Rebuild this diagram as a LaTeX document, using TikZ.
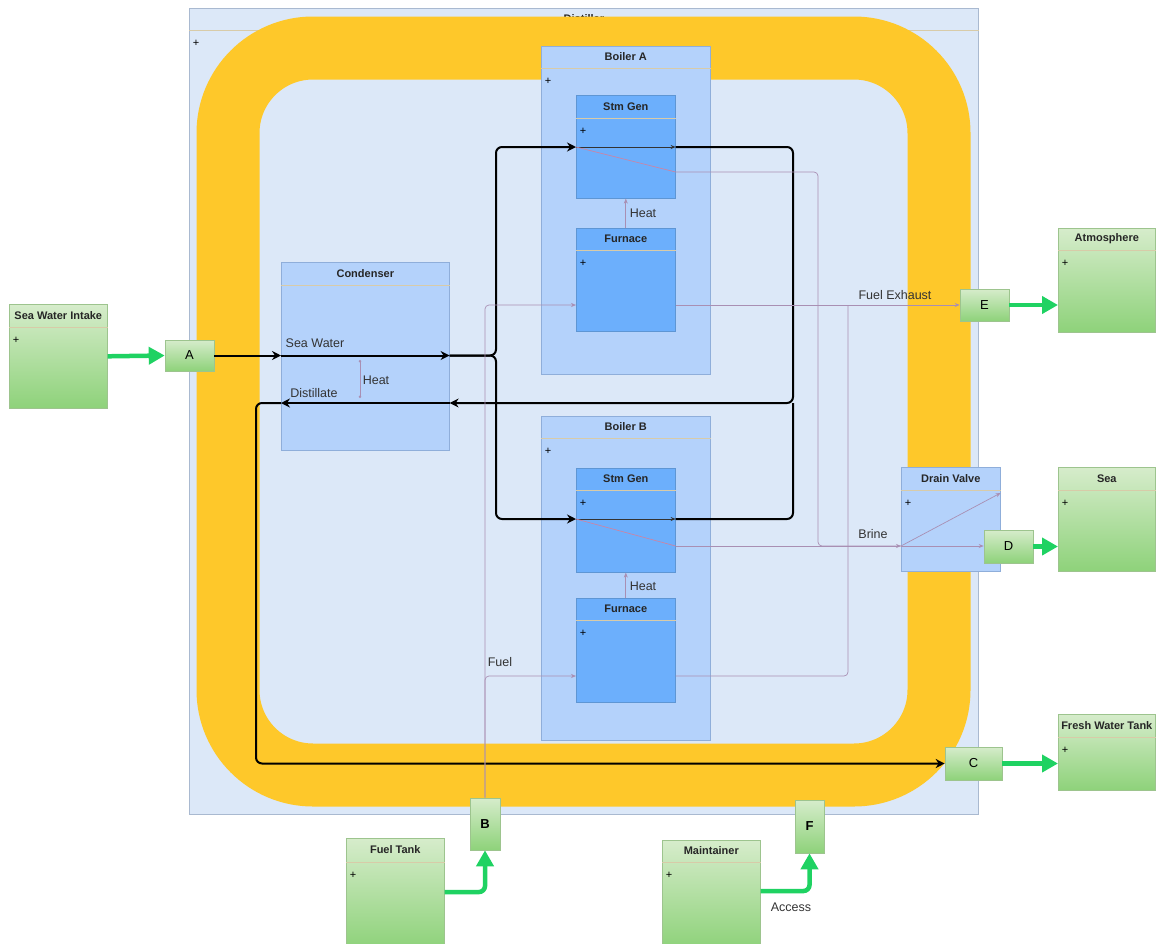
\documentclass[tikz,border=0pt]{standalone}
\usepackage{fontspec}
\setmainfont{Liberation Sans}
\usetikzlibrary{arrows.meta,calc}

\definecolor{distfill}{HTML}{DCE8F8}
\definecolor{distline}{HTML}{A9B9D0}
\definecolor{ringcol}{HTML}{FEC82A}
\definecolor{boilfill}{HTML}{B4D2FB}
\definecolor{boilline}{HTML}{8FAEDA}
\definecolor{sgfill}{HTML}{6CAFFC}
\definecolor{sgline}{HTML}{5E96D4}
\definecolor{hdrcol}{HTML}{D8CBA8}
\definecolor{exttop}{HTML}{D6ECCB}
\definecolor{extbot}{HTML}{8ED27A}
\definecolor{extline}{HTML}{9DC48E}
\definecolor{flowcol}{HTML}{1FD262}
\definecolor{thincol}{HTML}{A98FB3}
\definecolor{brinecol}{HTML}{C985A6}

\tikzset{
  distbox/.style={draw=distline, fill=distfill, line width=0.8pt},
  boilbox/.style={draw=boilline, fill=boilfill, line width=0.6pt},
  sgbox/.style={draw=sgline, fill=sgfill, line width=0.6pt},
  extbox/.style={draw=extline, top color=exttop, bottom color=extbot, line width=0.6pt},
  port/.style={draw=extline, top color=exttop, bottom color=extbot, line width=0.6pt,
    inner sep=0pt, font=\fontsize{13}{15}\selectfont},
  hdrline/.style={draw=hdrcol, line width=0.6pt},
  titletext/.style={font=\bfseries\fontsize{11}{13}\selectfont, text=black!85, inner sep=0pt},
  plustext/.style={font=\fontsize{11}{12}\selectfont, inner sep=0pt},
  lbl/.style={font=\fontsize{12.5}{15}\selectfont, text=black!80, inner sep=0pt},
  pipe/.style={draw=black, line width=2pt},
  pipetip/.style={-{Stealth[length=9pt,width=9pt]}},
  thinline/.style={draw=thincol, line width=0.7pt},
  thintip/.style={-{Stealth[length=5pt,width=4pt]}},
  brine/.style={draw=brinecol, line width=0.7pt},
  flow/.style={draw=flowcol, line width=4.5pt, -{Triangle[length=16pt,width=17pt]}},
}

% block with a header compartment, #9 = plus sign or empty
\newcommand{\umlbox}[9]{%
  \node[#2, minimum width=#5pt, minimum height=#6pt, anchor=north west, inner sep=0pt] (#1) at (#3,#4) {};
  \draw[hdrline] ($(#1.north west)+(0,#7)$) -- ($(#1.north east)+(0,#7)$);
  \node[titletext] (#1-title) at ($(#1.north)+(0,#7/2)$) {#8};
  \if\relax\detokenize{#9}\relax\else
    \node[plustext] (#1-plus) at ($(#1.north west)+(7,#7+13)$) {#9};
  \fi
}

\begin{document}
\begin{tikzpicture}[x=1pt,y=-1pt]
\useasboundingbox (0,0) rectangle (1157,943);

% distiller and its ring
\umlbox{dist}{distbox}{189}{8}{789}{806}{22}{Distiller}{+}
\draw[draw=ringcol, line width=63pt, rounded corners=85pt] (228,48) rectangle (939,775);

% boilers
\umlbox{boilA}{boilbox}{541}{46}{169}{328}{22}{Boiler A}{+}
\umlbox{sgA}{sgbox}{576}{95}{99}{103}{23}{Stm Gen}{+}
\umlbox{furnA}{sgbox}{576}{228}{99}{103}{22}{Furnace}{+}
\umlbox{boilB}{boilbox}{541}{416}{169}{324}{22}{Boiler B}{+}
\umlbox{sgB}{sgbox}{576}{468}{99}{104}{22}{Stm Gen}{+}
\umlbox{furnB}{sgbox}{576}{598}{99}{104}{22}{Furnace}{+}
\umlbox{cond}{boilbox}{281}{262}{168}{188}{23}{Condenser}{}
\umlbox{drain}{boilbox}{901}{467}{99}{104}{23}{Drain Valve}{+}

% outside world
\umlbox{intake}{extbox}{9}{304}{98}{104}{23}{Sea Water Intake}{+}
\umlbox{atmos}{extbox}{1058}{228}{97}{104}{22}{Atmosphere}{+}
\umlbox{sea}{extbox}{1058}{467}{97}{104}{23}{Sea}{+}
\umlbox{fresh}{extbox}{1058}{714}{97}{76}{23}{Fresh Water Tank}{+}
\umlbox{fuel}{extbox}{346}{838}{98}{110}{24}{Fuel Tank}{+}
\umlbox{maint}{extbox}{662}{840}{98}{108}{22}{Maintainer}{+}

% ports
\node[port, minimum width=49pt, minimum height=31pt] (pA) at (189.5,355.5) {A};
\node[port, minimum width=49pt, minimum height=32pt] (pE) at (984.5,305) {E};
\node[port, minimum width=49pt, minimum height=33pt] (pD) at (1008.5,546.5) {D};
\node[port, minimum width=57pt, minimum height=33pt] (pC) at (973.5,763.5) {C};
\node[port, minimum width=30pt, minimum height=52pt, font=\bfseries\fontsize{13}{15}\selectfont] (pB) at (485,824) {B};
\node[port, minimum width=29pt, minimum height=53pt, font=\bfseries\fontsize{13}{15}\selectfont] (pF) at (809.5,826.5) {F};

% points on the pipes
\coordinate (split) at (496,355.5);
\coordinate (ret) at (793,403);
\coordinate (drop) at (256,403);
\coordinate (sgAin) at ($(sgA.north west)+(0,52)$);
\coordinate (sgBin) at ($(sgB.north west)+(0,51)$);
\coordinate (brA) at ($(sgA.north east)+(0,77)$);
\coordinate (brB) at ($(sgB.north east)+(0,78)$);
\coordinate (brjoin) at (818,546);
\coordinate (fuelA) at ($(furnA.north west)+(0,77)$);
\coordinate (fuelB) at ($(furnB.north west)+(0,78)$);
\coordinate (exjoin) at (848,305);
\coordinate (hc1) at (360,360);
\coordinate (hc2) at (360,398);
\coordinate (ftout) at ($(fuel.north east)+(0,54)$);
\coordinate (mout) at ($(maint.north east)+(0,51)$);

% sea water and distillate
\draw[pipe, pipetip] (pA.east) -- (pA.east -| cond.west);
\draw[pipe, pipetip] (pA.east -| cond.west) -- (pA.east -| cond.east);
\draw[pipe, pipetip, rounded corners=6pt] (pA.east -| cond.east) -| (split |- sgAin) -- (sgAin);
\draw[pipe, pipetip, rounded corners=6pt] (pA.east -| cond.east) -| (split |- sgBin) -- (sgBin);
\draw[draw=black!80, line width=0.8pt, thintip] (sgAin) -- (sgAin -| sgA.east);
\draw[draw=black!80, line width=0.8pt, thintip] (sgBin) -- (sgBin -| sgB.east);
\draw[pipe, pipetip, rounded corners=6pt] (sgAin -| sgA.east) -| (ret) -- (ret -| cond.east);
\draw[pipe, rounded corners=6pt] (sgBin -| sgB.east) -| (ret);
\draw[pipe, pipetip] (ret -| cond.east) -- (ret -| cond.west);
\draw[pipe, pipetip, rounded corners=6pt] (ret -| cond.west) -- (drop) |- (pC.west);
\draw[thinline, {Circle[length=2.5pt]}-{Circle[length=2.5pt]}] (hc1) -- (hc2);

% brine
\draw[brine] (sgAin) -- (brA);
\draw[brine] (sgBin) -- (brB);
\draw[thinline, rounded corners=4pt] (brA) -| (brjoin) -- (brjoin -| drain.west);
\draw[thinline, thintip] (brB) -- (brB -| drain.west);
\draw[thinline, thintip] (brB -| drain.west) -- (brB -| pD.west);
\draw[thinline, thintip] (brB -| drain.west) -- ($(drain.north east)+(0,26)$);

% fuel and exhaust
\draw[thinline, thintip, rounded corners=4pt] (pB.north) |- (fuelA);
\draw[thinline, thintip, rounded corners=4pt] (pB.north) |- (fuelB);
\draw[thinline, thintip] (fuelA -| furnA.east) -- (pE.west);
\draw[thinline, rounded corners=4pt] (fuelB -| furnB.east) -| (exjoin);

% heat
\draw[thinline, thintip] (furnA.north) -- (sgA.south);
\draw[thinline, thintip] (furnB.north) -- (sgB.south);

% external flows
\draw[flow] (intake.east) -- (pA.west);
\draw[flow] (pE.east) -- (pE.east -| atmos.west);
\draw[flow] (pD.east) -- (pD.east -| sea.west);
\draw[flow] (pC.east) -- (pC.east -| fresh.west);
\draw[flow, rounded corners=6pt] (ftout) -| (pB.south);
\draw[flow, rounded corners=6pt] (mout) -| (pF.south);

% labels
\node[lbl] (lblsea) at (315,343) {Sea Water};
\node[lbl] (lbldist) at (314,393) {Distillate};
\node[lbl] (lblheatc) at (376,380) {Heat};
\node[lbl] (lblheata) at (643,213) {Heat};
\node[lbl] (lblheatb) at (643,586) {Heat};
\node[lbl] (lblexh) at (895,295) {Fuel Exhaust};
\node[lbl] (lblbrine) at (873,534) {Brine};
\node[lbl] (lblfuel) at (500,662) {Fuel};
\node[lbl] (lblacc) at (791,907) {Access};
\end{tikzpicture}
\end{document}
